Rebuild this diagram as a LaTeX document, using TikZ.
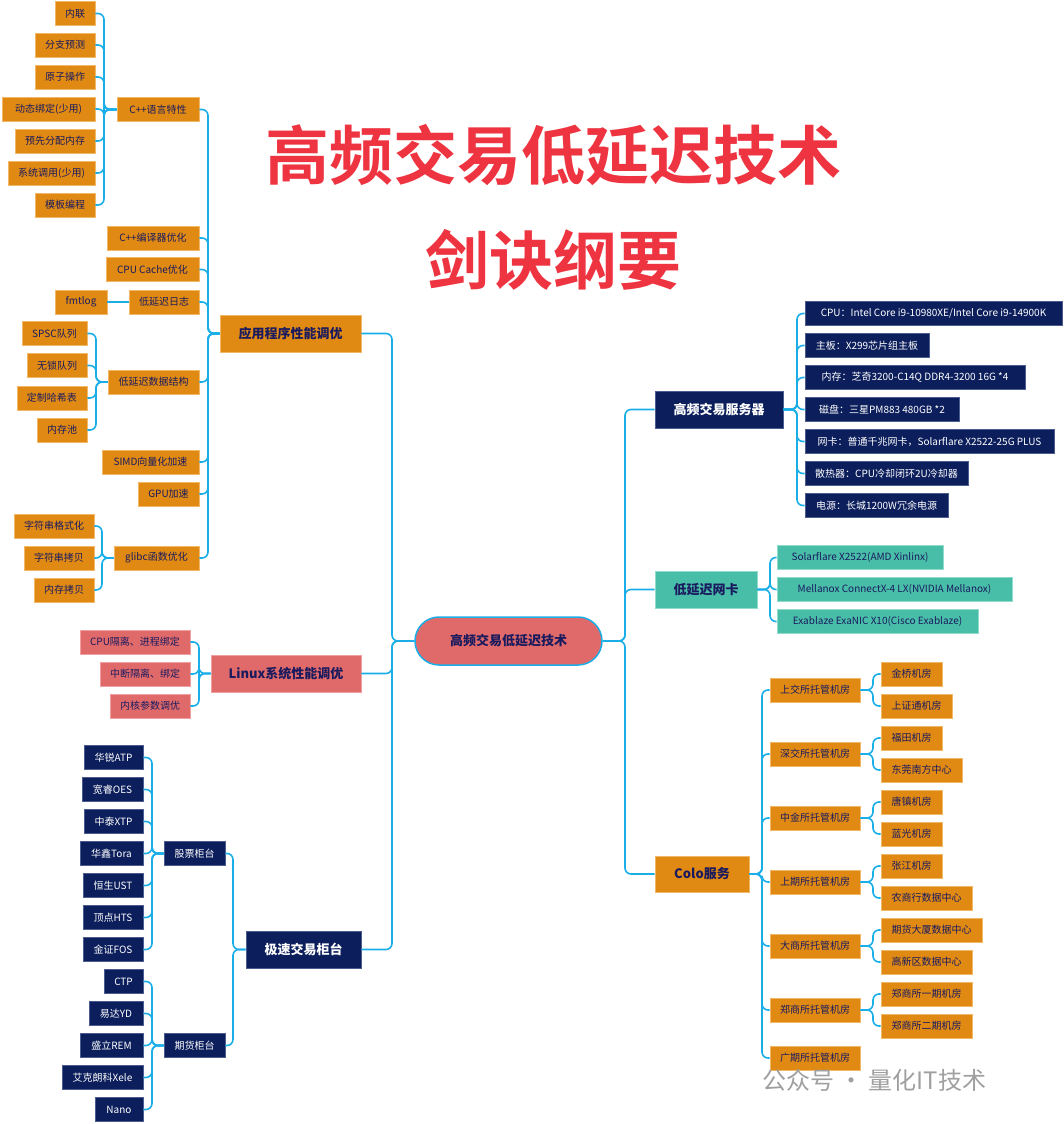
\documentclass[tikz,border=0pt]{standalone}
\usepackage{fontspec}
\setmainfont{Noto Sans CJK SC}
\newfontfamily\cjkb{Noto Sans CJK SC Bold}
\definecolor{org}{HTML}{E08A14}
\definecolor{orgb}{HTML}{F2B868}
\definecolor{nav}{HTML}{0C1F5C}
\definecolor{navb}{HTML}{4A5C90}
\definecolor{pnk}{HTML}{E06A6A}
\definecolor{pnkb}{HTML}{F0A0A0}
\definecolor{tea}{HTML}{48BEA8}
\definecolor{teab}{HTML}{90DCCC}
\definecolor{lnk}{HTML}{1AAEE8}
\definecolor{dtx}{HTML}{1A1A5E}
\definecolor{ttl}{HTML}{EE3440}
\tikzset{
 box/.style={minimum height=24, inner sep=0, line width=0.8, font=\fontsize{10}{12}\selectfont},
 big/.style={minimum height=37, inner sep=0, line width=0.8, font=\fontsize{13}{15}\selectfont\bfseries},
 ob/.style={box,fill=org,draw=orgb,text=dtx},
 nb/.style={box,fill=nav,draw=navb,text=white},
 pb/.style={box,fill=pnk,draw=pnkb,text=dtx},
 tb/.style={box,fill=tea,draw=teab,text=dtx},
 conn/.style={draw=lnk,line width=1.6,rounded corners=6},
}
\begin{document}
\begin{tikzpicture}[x=1pt,y=-1pt]
\useasboundingbox (0,0) rectangle (1063,1124);
% spines
\coordinate (s0) at (392,0);
\coordinate (sR) at (625,0);
\coordinate (sA) at (208,0);
\coordinate (sC) at (104,0);
\coordinate (sD) at (96,0);
\coordinate (sG) at (102,0);
\coordinate (sL) at (199,0);
\coordinate (sK) at (233,0);
\coordinate (sS) at (152,0);
\coordinate (sH) at (797,0);
\coordinate (sN) at (770,0);
\coordinate (sO) at (762,0);
\coordinate (sP) at (873,0);

% title
\node[text=ttl,font=\cjkb\fontsize{64}{70}\selectfont] (t1) at (553,155) {高频交易低延迟技术};
\node[text=ttl,font=\cjkb\fontsize{64}{70}\selectfont] (t2) at (553,260) {剑诀纲要};

% center
\node[fill=pnk,draw=lnk,line width=1.5,rounded corners=24,minimum width=187,minimum height=48,inner sep=0,text=dtx,font=\fontsize{13}{15}\selectfont\bfseries] (c) at (508.5,641) {高频交易低延迟技术};

% left branches
\node[big,fill=org,draw=orgb,text=dtx,minimum width=141] (app) at (290.5,333.5) {应用程序性能调优};
\node[big,fill=pnk,draw=pnkb,text=dtx,minimum width=150] (lin) at (286,673.5) {Linux系统性能调优};
\node[big,fill=nav,draw=navb,text=white,minimum width=115] (cnt) at (303.5,949.5) {极速交易柜台};

% app children
\node[ob,minimum width=82] (cpp) at (158,109.5) {C++语言特性};
\node[ob,minimum width=92] (cmp) at (153,238) {C++编译器优化};
\node[ob,minimum width=93] (cac) at (152.5,269.5) {CPU Cache优化};
\node[ob,minimum width=70] (log) at (164,302) {低延迟日志};
\node[ob,minimum width=91] (ds) at (153.5,382) {低延迟数据结构};
\node[ob,minimum width=97] (simd) at (150.5,462) {SIMD向量化加速};
\node[ob,minimum width=61] (gpu) at (168.5,494) {GPU加速};
\node[ob,minimum width=85] (glc) at (156.5,558) {glibc函数优化};

\node[ob,minimum width=40] (a1) at (75,13.5) {内联};
\node[ob,minimum width=60] (a2) at (65,45) {分支预测};
\node[ob,minimum width=60] (a3) at (65,77) {原子操作};
\node[ob,minimum width=93] (a4) at (48.5,109) {动态绑定(少用)};
\node[ob,minimum width=80] (a5) at (55,141) {预先分配内存};
\node[ob,minimum width=87] (a6) at (51.5,173) {系统调用(少用)};
\node[ob,minimum width=60] (a7) at (65,205) {模板编程};
\node[ob,minimum width=52] (fmt) at (81,302) {fmtlog};
\node[ob,minimum width=65] (d1) at (54.5,333.5) {SPSC队列};
\node[ob,minimum width=60] (d2) at (57,365.5) {无锁队列};
\node[ob,minimum width=70] (d3) at (52,398) {定制哈希表};
\node[ob,minimum width=50] (d4) at (62,430) {内存池};
\node[ob,minimum width=80] (g1) at (54,526) {字符串格式化};
\node[ob,minimum width=70] (g2) at (59,558) {字符串拷贝};
\node[ob,minimum width=60] (g3) at (64,590) {内存拷贝};

% linux children
\node[pb,minimum width=110] (l1) at (135,642) {CPU隔离、进程绑定};
\node[pb,minimum width=90] (l2) at (145,674) {中断隔离、绑定};
\node[pb,minimum width=80] (l3) at (150,706) {内核参数调优};

% counters
\node[nb,minimum width=61] (stk) at (194.5,853.5) {股票柜台};
\node[nb,minimum width=61] (fut) at (194.5,1045.5) {期货柜台};
\node[nb,minimum width=59] (k1) at (113.5,757.5) {华锐ATP};
\node[nb,minimum width=61] (k2) at (112.5,789.5) {宽睿OES};
\node[nb,minimum width=59] (k3) at (113.5,821.5) {中泰XTP};
\node[nb,minimum width=63] (k4) at (111.5,853.5) {华鑫Tora};
\node[nb,minimum width=60] (k5) at (113,885.5) {恒生UST};
\node[nb,minimum width=60] (k6) at (113,917.5) {顶点HTS};
\node[nb,minimum width=60] (k7) at (113,949.5) {金证FOS};
\node[nb,minimum width=39] (f1) at (123.5,981.5) {CTP};
\node[nb,minimum width=54] (f2) at (116,1013.5) {易达YD};
\node[nb,minimum width=63] (f3) at (111.5,1045.5) {盛立REM};
\node[nb,minimum width=81] (f4) at (102.5,1077.5) {艾克朗科Xele};
\node[nb,minimum width=48] (f5) at (119,1109.5) {Nano};

% right branches
\node[big,fill=nav,draw=navb,text=white,minimum width=128] (srv) at (719,409.5) {高频交易服务器};
\node[big,fill=tea,draw=teab,text=dtx,minimum width=102] (nic) at (706,589.5) {低延迟网卡};
\node[big,fill=org,draw=orgb,text=dtx,minimum width=94,minimum height=36] (colo) at (702,874) {Colo服务};

\node[nb,minimum width=257] (h1) at (933.5,313.5) {CPU：Intel Core i9-10980XE/Intel Core i9-14900K};
\node[nb,minimum width=124] (h2) at (867,345.5) {主板：X299芯片组主板};
\node[nb,minimum width=220] (h3) at (915,377.5) {内存：芝奇3200-C14Q DDR4-3200 16G *4};
\node[nb,minimum width=154] (h4) at (882,409.5) {磁盘：三星PM883 480GB *2};
\node[nb,minimum width=249] (h5) at (929.5,441.5) {网卡：普通千兆网卡，Solarflare X2522-25G PLUS};
\node[nb,minimum width=163] (h6) at (886.5,473.5) {散热器：CPU冷却闭环2U冷却器};
\node[nb,minimum width=143] (h7) at (876.5,505.5) {电源：长城1200W冗余电源};

\node[tb,minimum width=166] (n1) at (860,557.5) {Solarflare X2522(AMD Xinlinx)};
\node[tb,minimum width=235] (n2) at (894.5,589.5) {Mellanox ConnectX-4 LX(NVIDIA Mellanox)};
\node[tb,minimum width=201] (n3) at (877.5,621.5) {Exablaze ExaNIC X10(Cisco Exablaze)};

\node[ob,minimum width=90] (o1) at (815,690) {上交所托管机房};
\node[ob,minimum width=90] (o2) at (815,754) {深交所托管机房};
\node[ob,minimum width=90] (o3) at (815,818) {中金所托管机房};
\node[ob,minimum width=90] (o4) at (815,882) {上期所托管机房};
\node[ob,minimum width=90] (o5) at (815,946) {大商所托管机房};
\node[ob,minimum width=90] (o6) at (815,1010) {郑商所托管机房};
\node[ob,minimum width=90] (o7) at (815,1058) {广期所托管机房};

\node[ob,minimum width=61] (p1) at (911.5,674) {金桥机房};
\node[ob,minimum width=71] (p2) at (916.5,706) {上证通机房};
\node[ob,minimum width=61] (p3) at (911.5,738) {福田机房};
\node[ob,minimum width=81] (p4) at (921.5,770) {东莞南方中心};
\node[ob,minimum width=61] (p5) at (911.5,802) {唐镇机房};
\node[ob,minimum width=61] (p6) at (911.5,834) {蓝光机房};
\node[ob,minimum width=61] (p7) at (911.5,866) {张江机房};
\node[ob,minimum width=91] (p8) at (926.5,898) {农商行数据中心};
\node[ob,minimum width=101] (p9) at (931.5,930) {期货大厦数据中心};
\node[ob,minimum width=91] (p10) at (926.5,962) {高新区数据中心};
\node[ob,minimum width=91] (p11) at (926.5,994) {郑商所一期机房};
\node[ob,minimum width=91] (p12) at (926.5,1026) {郑商所二期机房};

% watermark
\node[text=gray!75,font=\fontsize{24}{26}\selectfont,anchor=west,inner sep=0] (wm) at (762,1080) {公众号 · 量化IT技术};

% connectors: center
\foreach \b in {app,lin,cnt} \draw[conn] (c.west) -- (c.west -| s0) |- (\b.east);
\foreach \b in {srv,nic,colo} \draw[conn] (c.east) -- (c.east -| sR) |- (\b.west);
% app
\foreach \b in {cpp,cmp,cac,log,ds,simd,gpu,glc} \draw[conn] (app.west) -- (app.west -| sA) |- (\b.east);
\foreach \b in {a1,a2,a3,a4,a5,a6,a7} \draw[conn] (cpp.west) -- (cpp.west -| sC) |- (\b.east);
\draw[conn] (log.west) -- (fmt.east);
\foreach \b in {d1,d2,d3,d4} \draw[conn] (ds.west) -- (ds.west -| sD) |- (\b.east);
\foreach \b in {g1,g2,g3} \draw[conn] (glc.west) -- (glc.west -| sG) |- (\b.east);
\foreach \b in {l1,l2,l3} \draw[conn] (lin.west) -- (lin.west -| sL) |- (\b.east);
\foreach \b in {stk,fut} \draw[conn] (cnt.west) -- (cnt.west -| sK) |- (\b.east);
\foreach \b in {k1,k2,k3,k4,k5,k6,k7} \draw[conn] (stk.west) -- (stk.west -| sS) |- (\b.east);
\foreach \b in {f1,f2,f3,f4,f5} \draw[conn] (fut.west) -- (fut.west -| sS) |- (\b.east);
% right
\foreach \b in {h1,h2,h3,h4,h5,h6,h7} \draw[conn] (srv.east) -- (srv.east -| sH) |- (\b.west);
\foreach \b in {n1,n2,n3} \draw[conn] (nic.east) -- (nic.east -| sN) |- (\b.west);
\foreach \b in {o1,o2,o3,o4,o5,o6,o7} \draw[conn] (colo.east) -- (colo.east -| sO) |- (\b.west);
\foreach \a/\b/\c in {o1/p1/p2,o2/p3/p4,o3/p5/p6,o4/p7/p8,o5/p9/p10,o6/p11/p12} {
  \draw[conn] (\a.east) -- (\a.east -| sP) |- (\b.west);
  \draw[conn] (\a.east) -- (\a.east -| sP) |- (\c.west);
}
\end{tikzpicture}
\end{document}
